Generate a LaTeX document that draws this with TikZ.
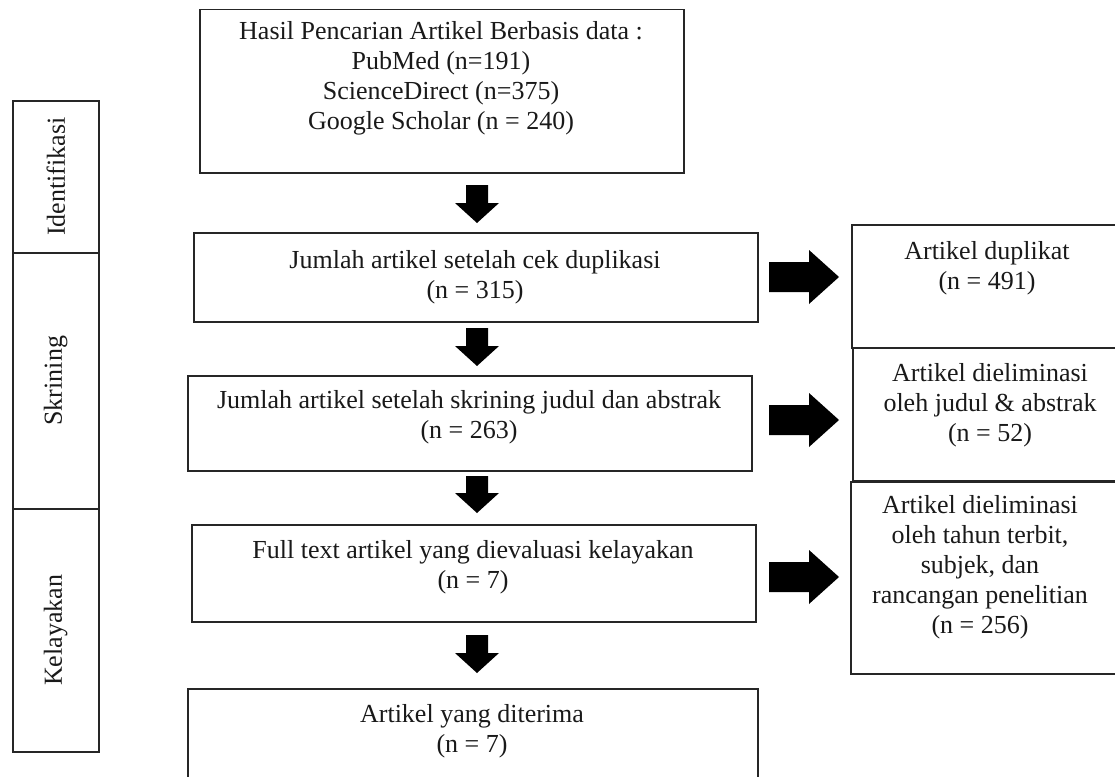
\documentclass[tikz,border=0pt]{standalone}
\usepackage{fontspec}
\setmainfont{Liberation Serif}
\begin{document}
\begin{tikzpicture}[x=1pt,y=-1pt,
  box/.style={draw=black!85, line width=1.5pt, inner sep=0pt, anchor=north west},
  txt/.style={align=center, font=\fontsize{26}{30}\selectfont, inner sep=0pt, text=black!90},
  blk/.style={fill=black, draw=none}]
\useasboundingbox (0,0) rectangle (1115,776);
\clip (0,0) rectangle (1115,776);

% left stage column
\node[box, minimum width=86pt, minimum height=152pt] (sid) at (12,100) {};
\node[box, minimum width=86pt, minimum height=256pt] (sskr) at (12,252) {};
\node[box, minimum width=86pt, minimum height=243pt] (skel) at (12,508) {};
\node[txt, rotate=90] at (sid.center) {Identifikasi};
\node[txt, rotate=90] at (sskr.center) {Skrining};
\node[txt, rotate=90] at (skel.center) {Kelayakan};

% main boxes
\node[box, minimum width=484pt, minimum height=163pt] (top) at (199,9) {};
\node[txt] (toptxt) at (441,78) {Hasil Pencarian Artikel Berbasis data :\\PubMed (n=191)\\ScienceDirect (n=375)\\Google Scholar (n = 240)};

\node[box, minimum width=564pt, minimum height=89pt] (b2) at (193,232) {};
\node[txt] (b2txt) at (475,277) {Jumlah artikel setelah cek duplikasi\\(n = 315)};

\node[box, minimum width=564pt, minimum height=95pt] (b3) at (187,375) {};
\node[txt] (b3txt) at (469,417) {Jumlah artikel setelah skrining judul dan abstrak\\(n = 263)};

\node[box, minimum width=564pt, minimum height=97pt] (b4) at (191,524) {};
\node[txt] (b4txt) at (473,567) {Full text artikel yang dievaluasi kelayakan\\(n = 7)};

\node[box, minimum width=570pt, minimum height=110pt] (b5) at (187,688) {};
\node[txt] (b5txt) at (472,731) {Artikel yang diterima\\(n = 7)};

% right boxes
\node[box, minimum width=272pt, minimum height=123pt] (r1) at (851,224) {};
\node[txt] (r1txt) at (987,268) {Artikel duplikat\\(n = 491)};

\node[box, minimum width=272pt, minimum height=133pt] (r2) at (852,347) {};
\node[txt] (r2txt) at (990,405) {Artikel dieliminasi\\oleh judul \& abstrak\\(n = 52)};

\node[box, minimum width=272pt, minimum height=192pt] (r3) at (850,481) {};
\node[txt] (r3txt) at (980,567) {Artikel dieliminasi\\oleh tahun terbit,\\subjek, dan\\rancangan penelitian\\(n = 256)};

% down block arrows
\coordinate (d1) at (477,185);
\coordinate (d2) at (477,328);
\coordinate (d3) at (477,476);
\coordinate (d4) at (477,635);
\foreach \c/\h in {d1/18, d2/18, d3/17, d4/18}{
  \fill[blk] (\c) ++(-11,0) -- ++(22,0) -- ++(0,\h) -- ++(11,0) -- ++(-22,20) -- ++(-22,-20) -- ++(11,0) -- cycle;
}

% right block arrows
\coordinate (a1) at (769,277);
\coordinate (a2) at (769,420);
\coordinate (a3) at (769,577);
\foreach \c in {a1,a2,a3}{
  \fill[blk] (\c) ++(0,-15) -- ++(40,0) -- ++(0,-12) -- ++(30,27) -- ++(-30,27) -- ++(0,-12) -- ++(-40,0) -- cycle;
}
\end{tikzpicture}
\end{document}
